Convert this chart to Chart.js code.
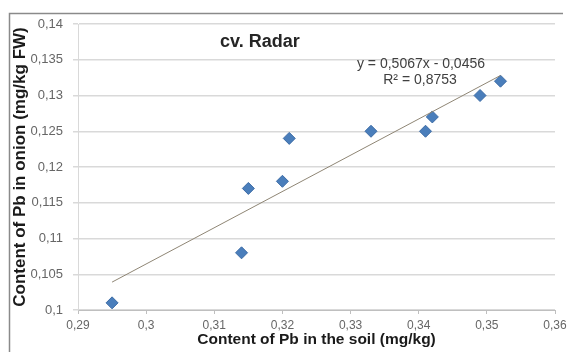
<!DOCTYPE html>
<html>
<head>
<meta charset="utf-8">
<script src="https://cdn.jsdelivr.net/npm/chart.js@4/dist/chart.umd.min.js"></script>
<style>
  html,body{margin:0;padding:0;background:#fff;}
  #wrap{width:572px;height:352px;position:relative;}
</style>
</head>
<body>
<div id="wrap"><canvas id="c" width="572" height="352"></canvas></div>
<script>
// ---- data ----
const soilPb  = [0.295, 0.314, 0.315, 0.320, 0.321, 0.333, 0.341, 0.342, 0.349, 0.352];
const onionPb = [0.101, 0.108, 0.117, 0.118, 0.124, 0.125, 0.125, 0.127, 0.130, 0.132];
const trendX  = [0.295, 0.352];
const trendY  = [0.1039, 0.1328];
const xTickLabels = ['0,29','0,3','0,31','0,32','0,33','0,34','0,35','0,36'];
const yTickLabels = ['0,1','0,105','0,11','0,115','0,12','0,125','0,13','0,135','0,14'];
const chartTitle = 'cv. Radar';
const eqText = 'y = 0,5067x - 0,0456';
const r2Text = 'R\u00B2 = 0,8753';
const xTitle = 'Content of Pb in the soil (mg/kg)';
const yTitle = 'Content of Pb in onion (mg/kg FW)';

const FONT = "'Liberation Sans', Arial, sans-serif";

const overlay = {
  id: 'overlay',
  beforeDraw(chart) {
    const ctx = chart.ctx;
    ctx.save();
    ctx.fillStyle = '#fff';
    ctx.fillRect(0, 0, chart.width, chart.height);
    ctx.strokeStyle = '#8a8a8a';
    ctx.lineWidth = 1.5;
    ctx.beginPath();
    ctx.moveTo(9.5, 352);
    ctx.lineTo(9.5, 13.5);
    ctx.lineTo(563, 13.5);
    ctx.stroke();
    ctx.restore();
  },
  afterDraw(chart) {
    const ctx = chart.ctx;
    ctx.save();
    ctx.textBaseline = 'middle';
    ctx.fillStyle = '#262626';
    ctx.font = "bold 18px " + FONT;
    ctx.textAlign = 'left';
    ctx.fillText(chartTitle, 220, 42);
    ctx.fillStyle = '#404040';
    ctx.font = "14px " + FONT;
    ctx.textAlign = 'center';
    ctx.fillText(eqText, 421, 64);
    ctx.fillText(r2Text, 420, 80);
    ctx.restore();
  }
};

new Chart(document.getElementById('c'), {
  type: 'scatter',
  data: {
    datasets: [
      {
        type: 'line',
        data: trendX.map((x, i) => ({x: x, y: trendY[i]})),
        borderColor: '#8f8675',
        borderWidth: 1,
        pointRadius: 0,
        fill: false,
        tension: 0
      },
      {
        data: soilPb.map((x, i) => ({x: x, y: onionPb[i]})),
        pointStyle: 'rectRot',
        pointRadius: 6,
        pointBackgroundColor: '#4a7ebb',
        pointBorderColor: '#3d6ca6',
        pointBorderWidth: 1
      }
    ]
  },
  options: {
    responsive: false,
    animation: false,
    events: [],
    layout: { padding: { left: 0, right: 17, top: 24, bottom: 0 } },
    plugins: { legend: { display: false }, tooltip: { enabled: false } },
    scales: {
      x: {
        type: 'linear',
        min: 0.29, max: 0.36,
        afterFit(s) { s.height = 42; },
        ticks: {
          stepSize: 0.01,
          padding: 4,
          color: '#666666',
          font: { family: FONT, size: 12 },
          callback: (v, i) => xTickLabels[i]
        },
        grid: { drawOnChartArea: false, drawTicks: true, tickLength: 4, color: '#bfbfbf' },
        border: { display: true, color: '#bfbfbf', width: 1 },
        title: {
          display: true, text: xTitle, color: '#1a1a1a',
          font: { family: FONT, size: 15.5, weight: 'bold' },
          padding: { top: 0, bottom: 3 }
        }
      },
      y: {
        type: 'linear',
        min: 0.1, max: 0.14,
        afterFit(s) { s.width = 78; },
        ticks: {
          stepSize: 0.005,
          padding: 10,
          color: '#666666',
          font: { family: FONT, size: 13 },
          callback: (v, i) => yTickLabels[i]
        },
        grid: { color: '#d9d9d9', lineWidth: 1.5, drawTicks: true, tickLength: 5 },
        border: { display: true, color: '#d9d9d9', width: 1 },
        title: {
          display: true, text: yTitle, color: '#1a1a1a',
          font: { family: FONT, size: 17, weight: 'bold' },
          padding: { top: 10, bottom: 0 }
        }
      }
    }
  },
  plugins: [overlay]
});
</script>
</body>
</html>
